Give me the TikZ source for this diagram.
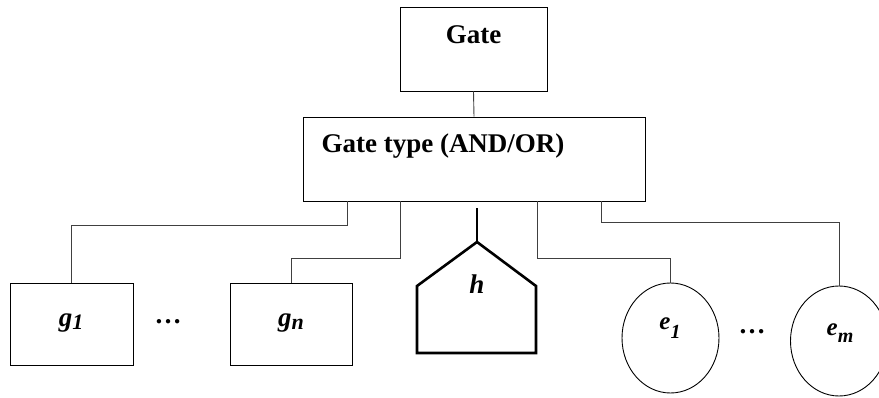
\documentclass[tikz,border=0pt]{standalone}
\usepackage{fontspec}
\setmainfont{Liberation Serif}
\usetikzlibrary{shapes.geometric}

\tikzset{
  box/.style={draw, line width=0.9pt, inner sep=0pt},
  leaf/.style={draw, ellipse, line width=0.9pt, inner sep=0pt, minimum width=97pt, minimum height=110pt},
  wire/.style={draw=black!75, line width=0.9pt},
  lbl/.style={font=\fontsize{27}{30}\selectfont\bfseries\itshape}
}

\begin{document}
\begin{tikzpicture}[x=1pt, y=-1pt]
  \useasboundingbox (0,0) rectangle (879,398);

  % top of the tree
  \node[box, minimum width=147pt, minimum height=84pt] (gate) at (473.5,49) {};
  \node[font=\fontsize{27}{30}\selectfont\bfseries] (gatetxt) at (473.5,35) {Gate};
  \node[box, minimum width=342pt, minimum height=84pt] (gtype) at (474,159) {};
  \node[font=\fontsize{27}{30}\selectfont\bfseries, anchor=west] (gtypetxt) at (318,146) {Gate type (AND/OR)};
  \draw[wire] (gate.south) -- (gtype.north);

  % sub-gates
  \node[box, minimum width=123pt, minimum height=82pt] (g1) at (71.5,324) {};
  \node[lbl] (g1txt) at (71,323) {g\raisebox{-0.12em}{\fontsize{22}{24}\selectfont 1}};
  \node[box, minimum width=122pt, minimum height=82pt] (gn) at (291,324) {};
  \node[lbl] (gntxt) at (291,323) {g\raisebox{-0.12em}{\fontsize{22}{24}\selectfont n}};
  \node[font=\fontsize{27}{30}\selectfont\bfseries] (dotsg) at (168,322) {\ldots};

  % house shaped child
  \coordinate (hapex) at (477,242);
  \draw[line width=2.6pt, line join=miter] (417,353) -- (417,286) -- (hapex) -- (536,286) -- (536,353) -- cycle;
  \node[lbl] (h) at (477,284) {h};
  \coordinate (htop) at (477,208);
  \draw[line width=1.6pt] (hapex) -- (htop);

  % events
  \node[leaf] (e1) at (670.5,338) {};
  \node[lbl, font=\fontsize{25}{28}\selectfont\bfseries\itshape] (e1txt) at (670,328) {e\raisebox{-0.35em}{\fontsize{20}{22}\selectfont 1}};
  \node[leaf] (em) at (839,341) {};
  \node[lbl, font=\fontsize{25}{28}\selectfont\bfseries\itshape] (emtxt) at (840,333) {e\raisebox{-0.3em}{\fontsize{20}{22}\selectfont m}};
  \node[font=\fontsize{27}{30}\selectfont\bfseries] (dotse) at (752,332) {\ldots};

  % connectors
  \draw[wire] (347,0 |- gtype.south) -- ++(0,24) -| (g1.north);
  \draw[wire] (400,0 |- gtype.south) -- ++(0,57) -| (gn.north);
  \draw[wire] (537,0 |- gtype.south) -- ++(0,57) -| (e1.north);
  \draw[wire] (601,0 |- gtype.south) -- ++(0,21) -| (em.north);
\end{tikzpicture}
\end{document}
